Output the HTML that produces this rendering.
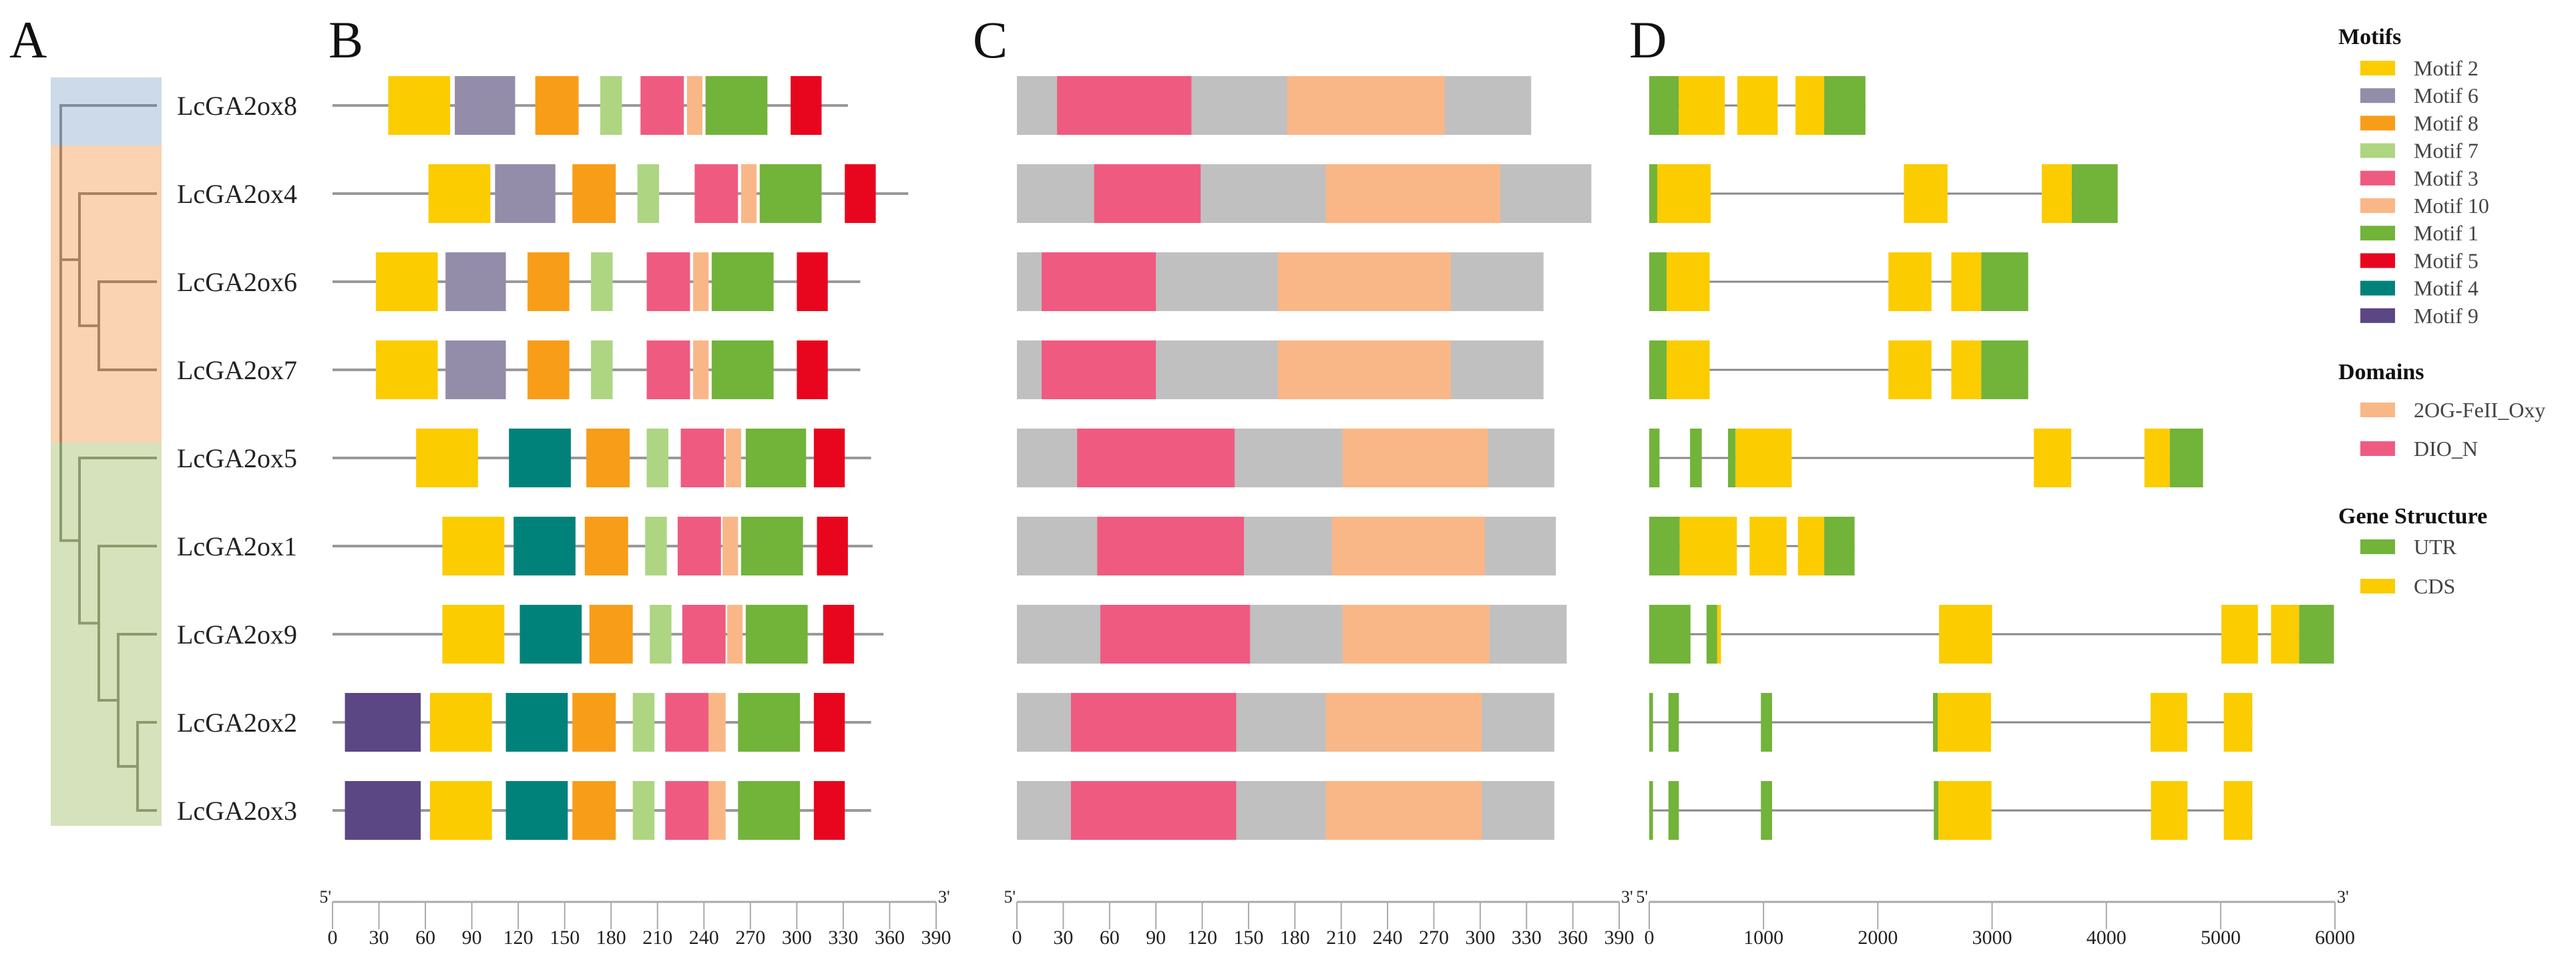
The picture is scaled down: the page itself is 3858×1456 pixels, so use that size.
<!DOCTYPE html>
<html><head><meta charset="utf-8">
<style>
html,body{margin:0;padding:0;background:#fff;}
svg{display:block;}
text{font-family:"Liberation Serif",serif;}
</style></head>
<body>
<svg id="fig" width="3858" height="1456" viewBox="0 0 3858 1456" xmlns="http://www.w3.org/2000/svg">
</svg>
<script>
// ---------- data ----------
const genes = ["LcGA2ox8","LcGA2ox4","LcGA2ox6","LcGA2ox7","LcGA2ox5","LcGA2ox1","LcGA2ox9","LcGA2ox2","LcGA2ox3"];
const proteinLengths = [333,372,341,341,348,349,356,348,348];
// motifs per gene: [motifId, start, end]
const motifs = [
 [[2,36,76],[6,79,118],[8,131,159],[7,173,187],[3,199,227],[10,229,239],[1,241,281],[5,296,316]],
 [[2,62,102],[6,105,144],[8,155,183],[7,197,211],[3,234,262],[10,264,274],[1,276,316],[5,331,351]],
 [[2,28,68],[6,73,112],[8,126,153],[7,167,181],[3,203,231],[10,233,243],[1,245,285],[5,300,320]],
 [[2,28,68],[6,73,112],[8,126,153],[7,167,181],[3,203,231],[10,233,243],[1,245,285],[5,300,320]],
 [[2,54,94],[4,114,154],[8,164,192],[7,203,217],[3,225,253],[10,254,264],[1,267,306],[5,311,331]],
 [[2,71,111],[4,117,157],[8,163,191],[7,202,216],[3,223,251],[10,252,262],[1,264,304],[5,313,333]],
 [[2,71,111],[4,121,161],[8,166,194],[7,205,219],[3,226,254],[10,255,265],[1,267,307],[5,317,337]],
 [[9,8,57],[2,63,103],[4,112,152],[8,155,183],[7,194,208],[3,215,243],[10,243,254],[1,262,302],[5,311,331]],
 [[9,8,57],[2,63,103],[4,112,152],[8,155,183],[7,194,208],[3,215,243],[10,243,254],[1,262,302],[5,311,331]]
];
// domains: DIO_N [start,end], 2OG [start,end]
const dioN = [[26,113],[50,119],[16,90],[16,90],[39,141],[52,147],[54,151],[35,142],[35,142]];
const ogOxy = [[175,277],[200,313],[169,281],[169,281],[211,305],[204,303],[211,306],[200,301],[200,301]];
// gene structure: [type, start, end] type U=UTR C=CDS
const geneLengths = [1892,4099,3316,3316,4846,1797,5991,5277,5277];
const exons = [
 [["U",0,259],["C",259,661],["C",771,1124],["C",1280,1531],["U",1531,1892]],
 [["U",0,70],["C",70,538],["C",2228,2610],["C",3435,3697],["U",3697,4099]],
 [["U",0,152],["C",152,529],["C",2093,2470],["C",2643,2905],["U",2905,3316]],
 [["U",0,152],["C",152,529],["C",2093,2470],["C",2643,2905],["U",2905,3316]],
 [["U",0,90],["U",357,460],["U",689,755],["C",755,1247],["C",3365,3693],["C",4333,4555],["U",4555,4846]],
 [["U",0,267],["C",267,767],["C",878,1202],["C",1301,1531],["U",1531,1797]],
 [["U",0,361],["U",501,595],["C",595,628],["C",2536,3000],["C",5006,5326],["C",5441,5687],["U",5687,5991]],
 [["U",0,33],["U",168,259],["U",977,1075],["U",2483,2524],["C",2524,2991],["C",4387,4707],["C",5027,5277]],
 [["U",0,33],["U",168,259],["U",977,1075],["U",2490,2530],["C",2530,2995],["C",4390,4710],["C",5027,5277]]
];
const aaTicks = [0,30,60,90,120,150,180,210,240,270,300,330,360,390];
const bpTicks = [0,1000,2000,3000,4000,5000,6000];
const motifLegend = [2,6,8,7,3,10,1,5,4,9];

// ---------- styles ----------
const motifColor = {2:"#FBCC00",6:"#938DAA",8:"#F89D18",7:"#AED582",3:"#EF5B80",10:"#F9B787",1:"#72B33A",5:"#E8061E",4:"#00827A",9:"#5C4785"};
const svg = document.getElementById("fig");
const NS = "http://www.w3.org/2000/svg";
function mk(tag, attrs, parent){
  const e = document.createElementNS(NS, tag);
  for (const k in attrs) e.setAttribute(k, attrs[k]);
  (parent||svg).appendChild(e);
  return e;
}
const rowY = i => 158 + i*132;
const BH = 88;
const xB = v => 498 + v*(904/390);
const xC = v => 1523 + v*(902/390);
const xD = v => 2470 + v*(1027/6000);

// panel letters
[["A",14],["B",492],["C",1457],["D",2440]].forEach(([t,x])=>{
  const e = mk("text",{x:x,y:86,"font-size":78,fill:"#111"});
  e.textContent = t;
  
  
});

// ---------- tree (panel A) ----------
const tg = mk("g",{});


[["#CCDAEA",116,218],["#F9D3B2",218,663],["#D6E2BB",663,1237]].forEach(([c,y1,y2],k)=>{
  const r = mk("rect",{x:76,y:y1,width:166,height:y2-y1,fill:c},tg);
  
  
});
function tl(pts,col){ mk("polyline",{points:pts.map(p=>p.join(",")).join(" "),fill:"none",stroke:col,"stroke-width":4},tg); }
const blue="#7F8C9B", brown="#A8835E", olive="#8C9A6E";
const yO1=(rowY(2)+rowY(3))/2, yO=(rowY(1)+yO1)/2;
const yG4=(rowY(7)+rowY(8))/2, yG3=(rowY(6)+yG4)/2, yG2=(rowY(5)+yG3)/2, yG=(rowY(4)+yG2)/2;
tl([[235,rowY(0)],[91,rowY(0)],[91,218]],blue);
tl([[91,218],[91,yG]],brown);
tl([[91,yO],[119,yO]],brown);
tl([[235,rowY(1)],[119,rowY(1)],[119,yO1],[148,yO1]],brown);
tl([[235,rowY(2)],[148,rowY(2)],[148,rowY(3)],[235,rowY(3)]],brown);
tl([[91,663],[91,yG],[119,yG]],olive);
tl([[235,rowY(4)],[119,rowY(4)],[119,yG2],[148,yG2]],olive);
tl([[235,rowY(5)],[148,rowY(5)],[148,yG3],[177,yG3]],olive);
tl([[235,rowY(6)],[177,rowY(6)],[177,yG4],[206,yG4]],olive);
tl([[235,rowY(7)],[206,rowY(7)],[206,rowY(8)],[235,rowY(8)]],olive);
genes.forEach((g,i)=>{
  const t = mk("text",{x:265,y:rowY(i)+14,"font-size":40,fill:"#222"});
  t.textContent = g;
  
  
});

// ---------- panel B motifs ----------
genes.forEach((g,i)=>{
  const y = rowY(i);
  const ln = mk("line",{x1:xB(0),x2:xB(proteinLengths[i]),y1:y,y2:y,stroke:"#999","stroke-width":4});
  
  
  motifs[i].forEach(([m,s,e])=>{
    const r = mk("rect",{x:xB(s),y:y-BH/2,width:xB(e)-xB(s),height:BH,fill:motifColor[m]});
    
    
  });
});

// ---------- panel C domains ----------
genes.forEach((g,i)=>{
  const y = rowY(i);
  const bg = mk("rect",{x:xC(0),y:y-BH/2,width:xC(proteinLengths[i])-xC(0),height:BH,fill:"#C0C0C0"});
  
  
  const d1 = mk("rect",{x:xC(dioN[i][0]),y:y-BH/2,width:xC(dioN[i][1])-xC(dioN[i][0]),height:BH,fill:"#EF5B80"});
  
  
  const d2 = mk("rect",{x:xC(ogOxy[i][0]),y:y-BH/2,width:xC(ogOxy[i][1])-xC(ogOxy[i][0]),height:BH,fill:"#F9B787"});
  
  
});

// ---------- panel D gene structure ----------
genes.forEach((g,i)=>{
  const y = rowY(i);
  const ln = mk("line",{x1:xD(0),x2:xD(geneLengths[i]),y1:y,y2:y,stroke:"#888","stroke-width":3});
  
  
  exons[i].forEach(([t,s,e])=>{
    const r = mk("rect",{x:xD(s),y:y-BH/2,width:Math.max(3,xD(e)-xD(s)),height:BH,fill:t==="U"?"#72B33A":"#FBCC00"});
    
    
  });
});

// ---------- axes ----------
function axis(name, sx, ticks, lo, hi){
  const g = mk("g",{});
  
  
  mk("line",{x1:sx(lo),x2:sx(hi),y1:1351,y2:1351,stroke:"#aaa","stroke-width":3},g);
  ticks.forEach(v=>{
    mk("line",{x1:sx(v),x2:sx(v),y1:1351,y2:1392,stroke:"#aaa","stroke-width":2},g);
    const t = mk("text",{x:sx(v),y:1414,"font-size":30,"text-anchor":"middle",fill:"#222"},g);
    t.textContent = v;
  });
  const a = mk("text",{x:sx(lo)-2,y:1352,"font-size":26,"text-anchor":"end",fill:"#222"},g); a.textContent="5'";
  const b = mk("text",{x:sx(hi)+3,y:1352,"font-size":26,fill:"#222"},g); b.textContent="3'";
}
axis('motif-axis', xB, aaTicks, 0, 390);
axis('domain-axis', xC, aaTicks, 0, 390);
axis('gene-axis', xD, bpTicks, 0, 6000);

// ---------- legend ----------
function head(t,y,name){
  const e = mk("text",{x:3502,y:y,"font-size":34,"font-weight":"bold",fill:"#111"});
  e.textContent = t;
  
  
}
function entry(label,color,cy,name){
  const g = mk("g",{});
  
  
  mk("rect",{x:3535,y:cy-11,width:52,height:22,fill:color},g);
  const t = mk("text",{x:3615,y:cy+11,"font-size":32,fill:"#444"},g);
  t.textContent = label;
}
head("Motifs",66,'legend-motifs-title');
motifLegend.forEach((m,k)=>entry("Motif "+m, motifColor[m], 102+k*41.2, 'legend-motif-'+m));
head("Domains",568,'legend-domains-title');
entry("2OG-FeII_Oxy","#F9B787",614,'legend-2og');
entry("DIO_N","#EF5B80",672,'legend-dio-n');
head("Gene Structure",784,'legend-gene-structure-title');
entry("UTR","#72B33A",819,'legend-utr');
entry("CDS","#FBCC00",878,'legend-cds');
</script>
</body></html>
